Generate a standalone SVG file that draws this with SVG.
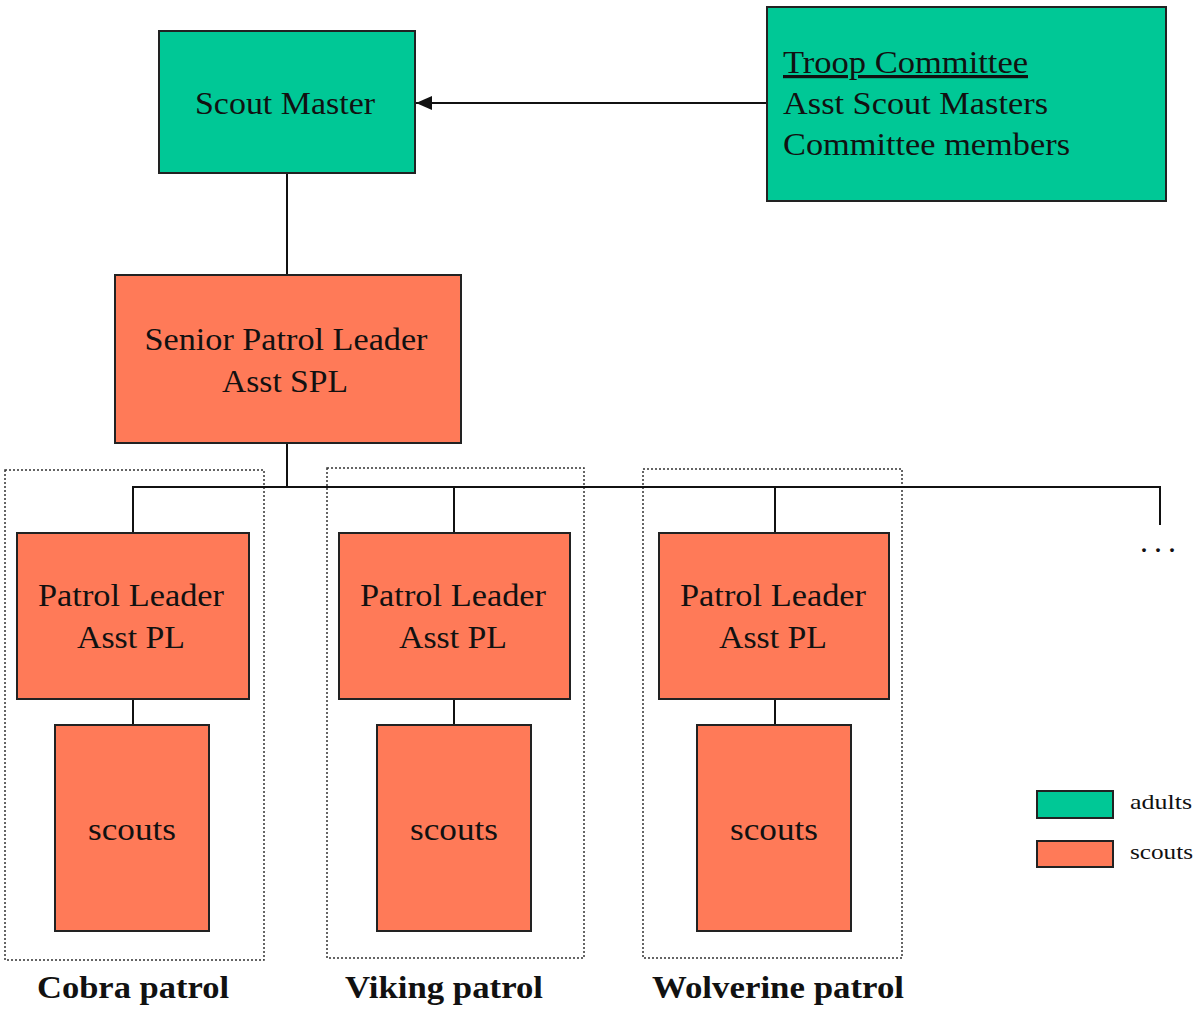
<svg xmlns="http://www.w3.org/2000/svg" width="1195" height="1009" viewBox="0 0 1195 1009">
<style>
.adult{fill:#00C896;stroke:#222;stroke-width:2}
.scout{fill:#FF7A58;stroke:#222;stroke-width:2}
.patrol{fill:none;stroke:#333;stroke-width:1.5;stroke-dasharray:2 2}
.t{font-family:"Liberation Serif","DejaVu Serif",serif;font-size:32px;fill:#111}
.c{text-anchor:middle}
.lbl{font-family:"Liberation Serif","DejaVu Serif",serif;font-size:31px;font-weight:bold;fill:#111;text-anchor:middle}
.leg{font-family:"Liberation Serif","DejaVu Serif",serif;font-size:21px;fill:#111}
.conn{stroke:#111;stroke-width:2;fill:none}
</style>
<defs>
<marker id="arr" markerWidth="16" markerHeight="14" refX="16" refY="7" orient="auto" markerUnits="userSpaceOnUse">
<path d="M0,0 L16,7 L0,14 Z" fill="#111"/>
</marker>
</defs>
<rect width="1195" height="1009" fill="#fff"/>
<g id="patrol-boxes">
<rect class="patrol" x="5" y="470" width="259" height="490"/>
<rect class="patrol" x="327" y="468" width="257" height="490"/>
<rect class="patrol" x="643" y="469" width="259" height="489"/>
</g>
<g id="connectors">
<line class="conn" x1="767" y1="103" x2="416" y2="103" marker-end="url(#arr)"/>
<line class="conn" x1="287" y1="173" x2="287" y2="275"/>
<line class="conn" x1="287" y1="443" x2="287" y2="487"/>
<polyline class="conn" points="133,533 133,487 1160,487 1160,525"/>
<line class="conn" x1="454" y1="487" x2="454" y2="533"/>
<line class="conn" x1="775" y1="487" x2="775" y2="533"/>
<line class="conn" x1="133" y1="699" x2="133" y2="725"/>
<line class="conn" x1="454" y1="699" x2="454" y2="725"/>
<line class="conn" x1="775" y1="699" x2="775" y2="725"/>
</g>
<g id="scout-master">
<rect class="adult" x="159" y="31" width="256" height="142"/>
<text class="t c" x="285" y="114" textLength="180" lengthAdjust="spacingAndGlyphs">Scout Master</text>
</g>
<g id="troop-committee">
<rect class="adult" x="767" y="7" width="399" height="194"/>
<text class="t" x="783" y="73" text-decoration="underline" textLength="245" lengthAdjust="spacingAndGlyphs">Troop Committee</text>
<text class="t" x="783" y="114" textLength="265" lengthAdjust="spacingAndGlyphs">Asst Scout Masters</text>
<text class="t" x="783" y="155" textLength="287" lengthAdjust="spacingAndGlyphs">Committee members</text>
</g>
<g id="spl">
<rect class="scout" x="115" y="275" width="346" height="168"/>
<text class="t c" x="286" y="350" textLength="283" lengthAdjust="spacingAndGlyphs">Senior Patrol Leader</text>
<text class="t c" x="285" y="392" textLength="126" lengthAdjust="spacingAndGlyphs">Asst SPL</text>
</g>
<g id="pl-cobra">
<rect class="scout" x="17" y="533" width="232" height="166"/>
<text class="t c" x="131" y="606" textLength="186" lengthAdjust="spacingAndGlyphs">Patrol Leader</text>
<text class="t c" x="131" y="648" textLength="108" lengthAdjust="spacingAndGlyphs">Asst PL</text>
</g>
<g id="pl-viking">
<rect class="scout" x="339" y="533" width="231" height="166"/>
<text class="t c" x="453" y="606" textLength="186" lengthAdjust="spacingAndGlyphs">Patrol Leader</text>
<text class="t c" x="453" y="648" textLength="108" lengthAdjust="spacingAndGlyphs">Asst PL</text>
</g>
<g id="pl-wolverine">
<rect class="scout" x="659" y="533" width="230" height="166"/>
<text class="t c" x="773" y="606" textLength="186" lengthAdjust="spacingAndGlyphs">Patrol Leader</text>
<text class="t c" x="773" y="648" textLength="108" lengthAdjust="spacingAndGlyphs">Asst PL</text>
</g>
<g id="scouts-cobra">
<rect class="scout" x="55" y="725" width="154" height="206"/>
<text class="t c" x="132" y="840" textLength="88" lengthAdjust="spacingAndGlyphs">scouts</text>
</g>
<g id="scouts-viking">
<rect class="scout" x="377" y="725" width="154" height="206"/>
<text class="t c" x="454" y="840" textLength="88" lengthAdjust="spacingAndGlyphs">scouts</text>
</g>
<g id="scouts-wolverine">
<rect class="scout" x="697" y="725" width="154" height="206"/>
<text class="t c" x="774" y="840" textLength="88" lengthAdjust="spacingAndGlyphs">scouts</text>
</g>
<g id="patrol-labels">
<text class="lbl" x="133" y="998" textLength="192" lengthAdjust="spacingAndGlyphs">Cobra patrol</text>
<text class="lbl" x="444" y="998" textLength="198" lengthAdjust="spacingAndGlyphs">Viking patrol</text>
<text class="lbl" x="778" y="998" textLength="252" lengthAdjust="spacingAndGlyphs">Wolverine patrol</text>
</g>
<g id="more">
<text class="t" x="1140" y="552" letter-spacing="6">...</text>
</g>
<g id="legend">
<rect class="adult" x="1037" y="791" width="76" height="27"/>
<text class="leg" x="1130" y="809" textLength="62" lengthAdjust="spacingAndGlyphs">adults</text>
<rect class="scout" x="1037" y="841" width="76" height="26"/>
<text class="leg" x="1130" y="859" textLength="63" lengthAdjust="spacingAndGlyphs">scouts</text>
</g>
</svg>
